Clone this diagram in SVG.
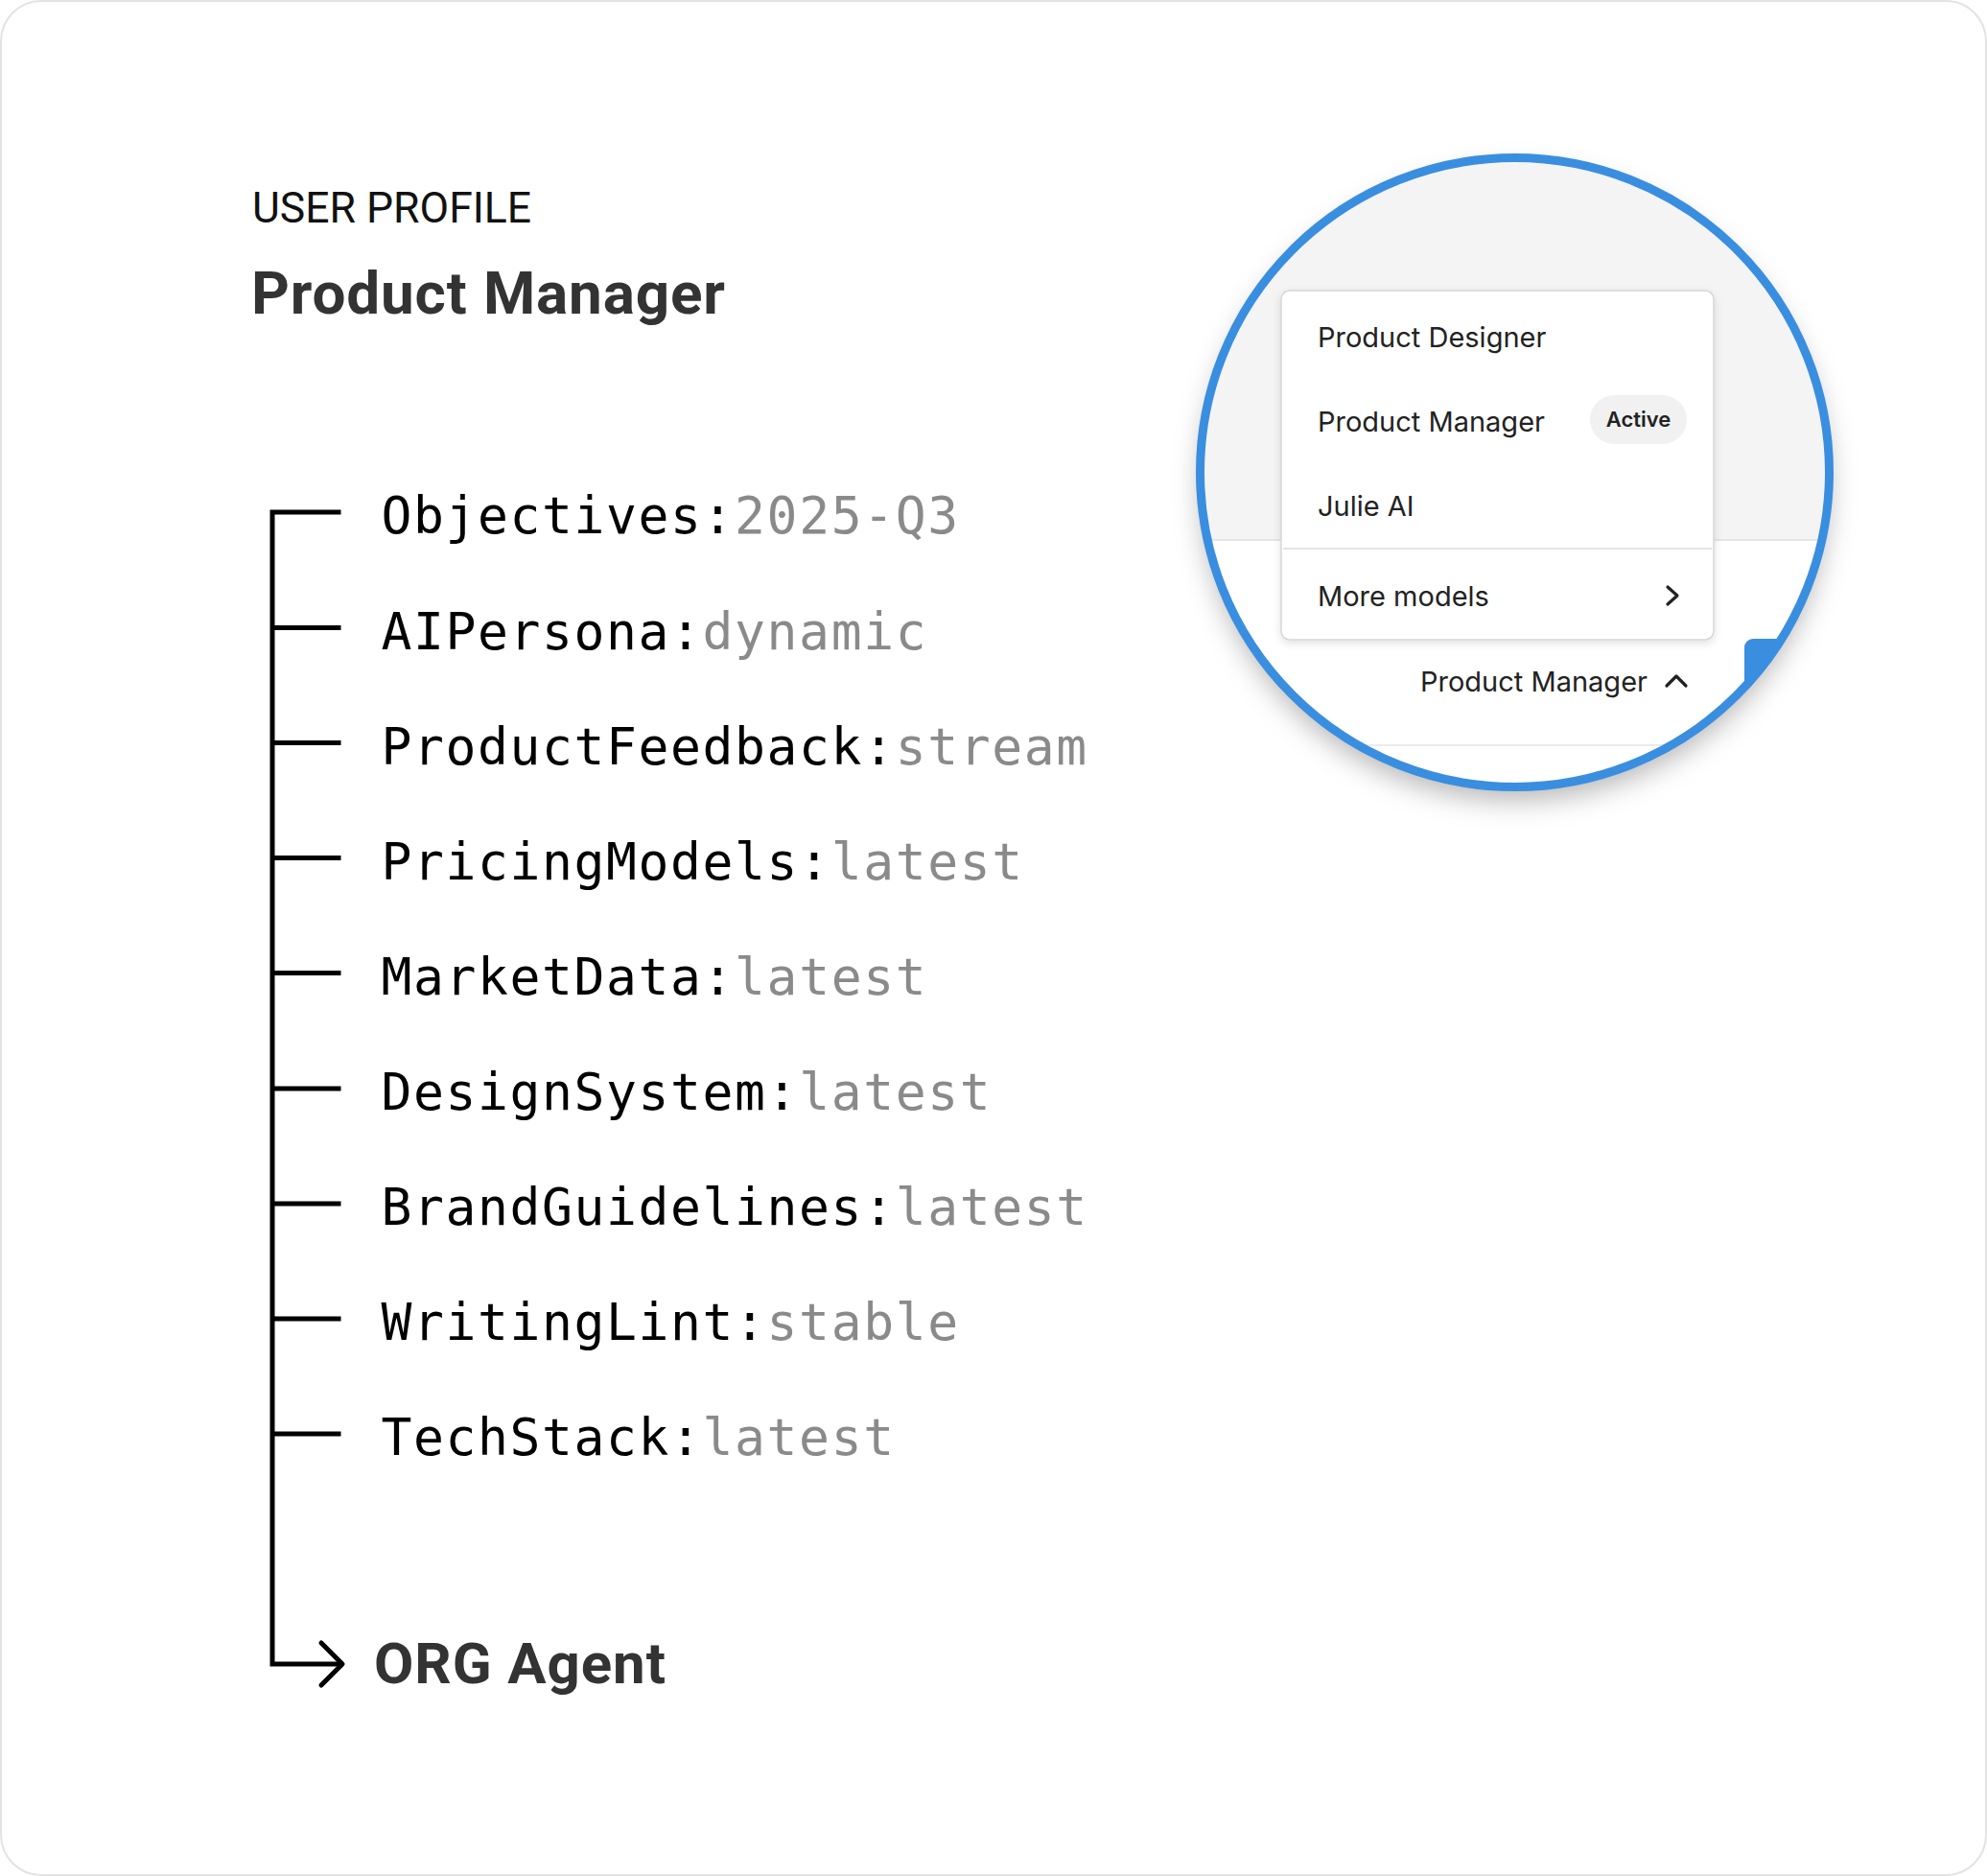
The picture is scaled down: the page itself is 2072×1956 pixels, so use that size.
<svg xmlns="http://www.w3.org/2000/svg" width="2072" height="1956" viewBox="0 0 2072 1956">
  <style>
    .mono { font-family: "DejaVu Sans Mono", "Liberation Mono", monospace; font-size: 53px; letter-spacing: 1.6px; fill: #000; }
    .val { fill: #8a8a8a; }
    .tick { stroke: #000; stroke-width: 5; fill: none; }
    .ui { font-family: Inter, "Noto Sans", sans-serif; font-size: 29px; fill: #222; }
  </style>
  <defs>
    <clipPath id="lens">
      <circle cx="1579.5" cy="492.5" r="328"/>
    </clipPath>
    <filter id="circleShadow" x="-30%" y="-30%" width="160%" height="170%">
      <feDropShadow dx="0" dy="14" stdDeviation="14" flood-color="#000" flood-opacity="0.28"/>
    </filter>
    <filter id="menuShadow" x="-10%" y="-10%" width="120%" height="125%">
      <feDropShadow dx="0" dy="3" stdDeviation="4" flood-color="#000" flood-opacity="0.12"/>
    </filter>
  </defs>

  <rect id="card" x="1" y="1" width="2070" height="1954" rx="42" fill="#fff" stroke="#e3e3e3" stroke-width="2"/>

  <g id="header">
    <text x="263" y="232" font-family="Roboto, Inter, sans-serif" font-size="44.5" fill="#111">USER PROFILE</text>
    <text x="262" y="327" font-family="Roboto, Inter, sans-serif" font-size="62" font-weight="bold" fill="#333" textLength="494">Product Manager</text>
  </g>

  <g id="connectors">
    <path class="tick" d="M355.5,534 H284 V1735 H357"/>
    <path class="tick" d="M284,654.5 H355.5"/>
    <path class="tick" d="M284,774.5 H355.5"/>
    <path class="tick" d="M284,894.5 H355.5"/>
    <path class="tick" d="M284,1014.5 H355.5"/>
    <path class="tick" d="M284,1135 H355.5"/>
    <path class="tick" d="M284,1255 H355.5"/>
    <path class="tick" d="M284,1375 H355.5"/>
    <path class="tick" d="M284,1495 H355.5"/>
    <path class="tick" d="M335,1713 L357,1735 L335,1757" stroke-linecap="round" stroke-linejoin="round"/>
  </g>

  <g id="objectives"><text class="mono" x="397.5" y="556">Objectives:<tspan class="val">2025-Q3</tspan></text></g>
  <g id="aipersona"><text class="mono" x="397.5" y="676.5">AIPersona:<tspan class="val">dynamic</tspan></text></g>
  <g id="productfeedback"><text class="mono" x="397.5" y="796.5">ProductFeedback:<tspan class="val">stream</tspan></text></g>
  <g id="pricingmodels"><text class="mono" x="397.5" y="916.5">PricingModels:<tspan class="val">latest</tspan></text></g>
  <g id="marketdata"><text class="mono" x="397.5" y="1036.5">MarketData:<tspan class="val">latest</tspan></text></g>
  <g id="designsystem"><text class="mono" x="397.5" y="1157">DesignSystem:<tspan class="val">latest</tspan></text></g>
  <g id="brandguidelines"><text class="mono" x="397.5" y="1277">BrandGuidelines:<tspan class="val">latest</tspan></text></g>
  <g id="writinglint"><text class="mono" x="397.5" y="1397">WritingLint:<tspan class="val">stable</tspan></text></g>
  <g id="techstack"><text class="mono" x="397.5" y="1517">TechStack:<tspan class="val">latest</tspan></text></g>

  <g id="org-agent">
    <text x="390" y="1755" font-family="Roboto, Inter, sans-serif" font-size="60" font-weight="bold" fill="#333" textLength="304">ORG Agent</text>
  </g>

  <g id="lens-view">
    <circle cx="1579.5" cy="492.5" r="328" fill="#fff" filter="url(#circleShadow)"/>
    <g clip-path="url(#lens)">
      <rect x="1240" y="150" width="680" height="413" fill="#f4f4f4"/>
      <line x1="1240" y1="563" x2="1920" y2="563" stroke="#e6e6e6" stroke-width="2"/>
      <line x1="1240" y1="777" x2="1920" y2="777" stroke="#ebebeb" stroke-width="2"/>
      <rect x="1819" y="666" width="140" height="120" rx="9" fill="#3a8ee0"/>
      <g id="menu">
        <rect x="1336" y="303" width="451" height="364" rx="9" fill="#fff" stroke="#d6d6d6" stroke-width="1.5" filter="url(#menuShadow)"/>
        <text class="ui" x="1374" y="362">Product Designer</text>
        <text class="ui" x="1374" y="450">Product Manager</text>
        <rect x="1658" y="412" width="101" height="51" rx="25.5" fill="#f1f1f1"/>
        <text x="1708.5" y="445" text-anchor="middle" font-family="Inter, 'Noto Sans', sans-serif" font-size="22" font-weight="600" fill="#222">Active</text>
        <text class="ui" x="1374" y="538">Julie AI</text>
        <line x1="1338" y1="572" x2="1785" y2="572" stroke="#e6e6e6" stroke-width="2"/>
        <text class="ui" x="1374" y="632">More models</text>
        <path d="M1739,612 L1749,621 L1739,630" fill="none" stroke="#222" stroke-width="3.2" stroke-linecap="round" stroke-linejoin="round"/>
      </g>
      <text class="ui" x="1481" y="721" fill="#333">Product Manager</text>
      <path d="M1738,715 L1748,705 L1758,715" fill="none" stroke="#222" stroke-width="3.2" stroke-linecap="round" stroke-linejoin="round"/>
    </g>
    <circle cx="1579.5" cy="492.5" r="328" fill="none" stroke="#3a8ee0" stroke-width="9"/>
  </g>
</svg>
